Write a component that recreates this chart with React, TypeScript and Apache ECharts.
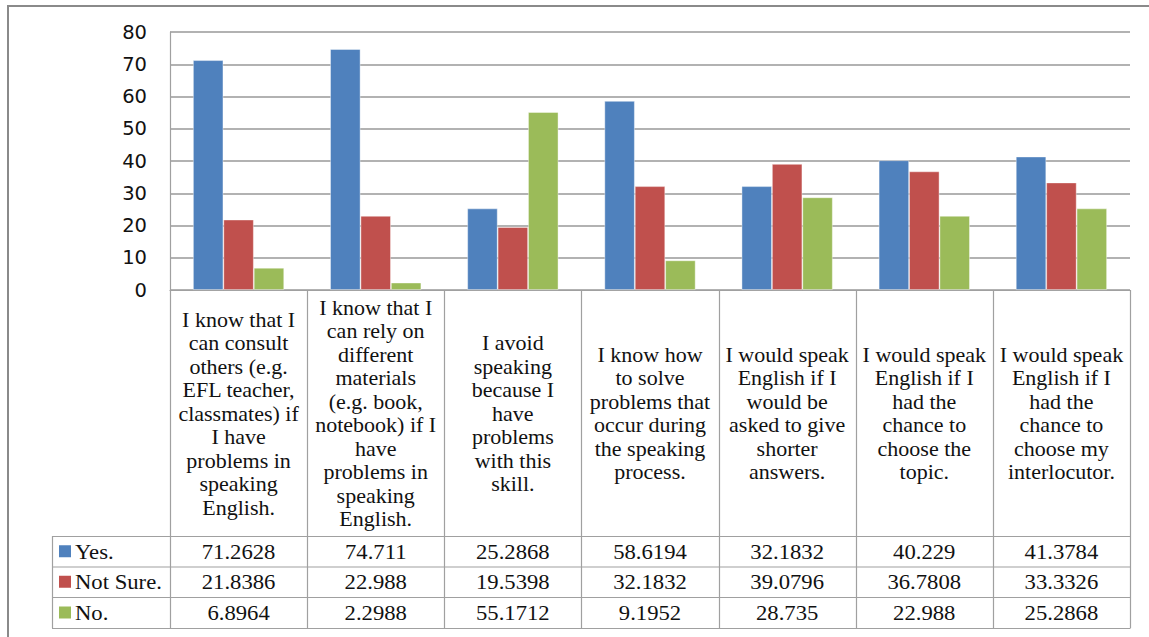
import React, { useEffect, useRef } from "react";
import * as echarts from "echarts";

const categories = [
  "I know that I\ncan consult\nothers (e.g.\nEFL teacher,\nclassmates) if\nI have\nproblems in\nspeaking\nEnglish.",
  "I know that I\ncan rely on\ndifferent\nmaterials\n(e.g. book,\nnotebook) if I\nhave\nproblems in\nspeaking\nEnglish.",
  "I avoid\nspeaking\nbecause I\nhave\nproblems\nwith this\nskill.",
  "I know how\nto solve\nproblems that\noccur during\nthe speaking\nprocess.",
  "I would speak\nEnglish if I\nwould be\nasked to give\nshorter\nanswers.",
  "I would speak\nEnglish if I\nhad the\nchance to\nchoose the\ntopic.",
  "I would speak\nEnglish if I\nhad the\nchance to\nchoose my\ninterlocutor.",
];

const seriesNames = ["Yes.", "Not Sure.", "No."];
const yesValues = [71.2628, 74.711, 25.2868, 58.6194, 32.1832, 40.229, 41.3784];
const notSureValues = [21.8386, 22.988, 19.5398, 32.1832, 39.0796, 36.7808, 33.3326];
const noValues = [6.8964, 2.2988, 55.1712, 9.1952, 28.735, 22.988, 25.2868];
const yTicks = [0, 10, 20, 30, 40, 50, 60, 70, 80];

const colors = ["#4F81BD", "#C0504D", "#9BBB59"];

// layout
const GL = 170;
const GT = 32;
const GR = 1130;
const GB = 290;
const TABLE_HEADER_BOTTOM = 536;
const ROW_LINES = [536, 566.5, 597, 628];
const LEGEND_LEFT = 52;
const LINE_COLOR = "#a0a0a0";
const SERIF = '"Liberation Serif", "Times New Roman", serif';
const SANS = '"DejaVu Sans", Verdana, sans-serif';

export default function App() {
  const ref = useRef<HTMLDivElement>(null);

  useEffect(() => {
    if (!ref.current) return;
    const chart = echarts.init(ref.current, null, { renderer: "svg" });
    const allSeries = [yesValues, notSureValues, noValues];
    const n = categories.length;
    const cw = (GR - GL) / n;

    const graphics: any[] = [];
    graphics.push({
      type: "polyline",
      silent: true,
      shape: { points: [[8, 640], [8, 6], [1152, 6]] },
      style: { stroke: "#8a8a8a", lineWidth: 2, fill: "none" },
    });
    for (let i = 0; i <= n; i++) {
      const x = Math.round(GL + cw * i) + 0.5;
      graphics.push({
        type: "line",
        silent: true,
        shape: { x1: x, y1: GB, x2: x, y2: ROW_LINES[3] },
        style: { stroke: LINE_COLOR, lineWidth: 1.2 },
      });
    }
    graphics.push({
      type: "line",
      silent: true,
      shape: { x1: LEGEND_LEFT + 0.5, y1: TABLE_HEADER_BOTTOM, x2: LEGEND_LEFT + 0.5, y2: ROW_LINES[3] },
      style: { stroke: LINE_COLOR, lineWidth: 1.2 },
    });
    ROW_LINES.forEach((y) => {
      graphics.push({
        type: "line",
        silent: true,
        shape: { x1: LEGEND_LEFT, y1: y + 0.5, x2: GR + 0.5, y2: y + 0.5 },
        style: { stroke: LINE_COLOR, lineWidth: 1.2 },
      });
    });
    for (let r = 0; r < 3; r++) {
      const cy = (ROW_LINES[r] + ROW_LINES[r + 1]) / 2;
      graphics.push({
        type: "rect",
        silent: true,
        shape: { x: 59, y: cy - 6, width: 12, height: 12 },
        style: { fill: colors[r] },
      });
      graphics.push({
        type: "text",
        silent: true,
        x: 75,
        y: cy + 1,
        scaleX: 1.08,
        style: {
          text: seriesNames[r],
          fontFamily: SERIF,
          fontSize: 21,
          fill: "#111",
          align: "left",
          verticalAlign: "middle",
          textAlign: "left",
          textVerticalAlign: "middle",
        },
      });
      allSeries[r].forEach((v, i) => {
        graphics.push({
          type: "text",
          silent: true,
          x: GL + cw * (i + 0.5),
          y: cy + 1,
          scaleX: 1.08,
          style: {
            text: String(v),
            fontFamily: SERIF,
            fontSize: 21,
            fill: "#111",
            align: "center",
            verticalAlign: "middle",
            textAlign: "center",
            textVerticalAlign: "middle",
          },
        });
      });
    }

    chart.setOption({
      animation: false,
      backgroundColor: "#ffffff",
      textStyle: { fontFamily: SERIF },
      grid: { left: GL, top: GT, width: GR - GL, height: GB - GT, containLabel: false },
      xAxis: {
        type: "category",
        data: categories,
        axisLine: { show: true, lineStyle: { color: LINE_COLOR, width: 1.2 } },
        axisTick: { show: false },
        splitLine: { show: false },
        axisLabel: {
          interval: 0,
          margin: 123,
          verticalAlign: "middle",
          align: "center",
          fontFamily: SERIF,
          fontSize: 22,
          lineHeight: 23.5,
          color: "#111",
        },
      },
      yAxis: {
        type: "value",
        min: yTicks[0],
        max: yTicks[yTicks.length - 1],
        interval: 10,
        axisLine: { show: true, lineStyle: { color: LINE_COLOR, width: 1.2 } },
        axisTick: { show: false },
        splitLine: { show: true, lineStyle: { color: "#999999", width: 1.6 } },
        axisLabel: {
          margin: 23,
          fontFamily: SANS,
          fontSize: 19.5,
          color: "#111",
        },
      },
      series: allSeries.map((data, i) => ({
        type: "bar",
        name: seriesNames[i],
        data,
        barGap: "0%",
        barCategoryGap: "33.5%",
        itemStyle: { color: colors[i], borderColor: "rgba(255,255,255,0.5)", borderWidth: 0.8 },
      })),
      graphic: graphics,
    });

    return () => chart.dispose();
  }, []);

  return (
    <div
      ref={ref}
      style={{ position: "fixed", left: 0, top: 0, width: 1149, height: 637, background: "#fff" }}
    />
  );
}
